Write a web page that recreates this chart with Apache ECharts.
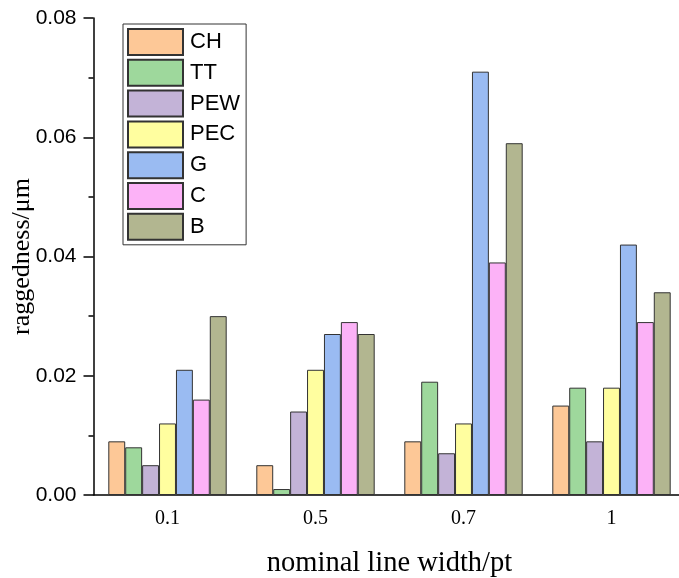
<!DOCTYPE html>
<html>
<head>
<meta charset="utf-8">
<script src="https://cdn.jsdelivr.net/npm/echarts@6/dist/echarts.min.js"></script>
<style>html,body{margin:0;padding:0;background:#fff;}#c{width:679px;height:578px;}</style>
</head>
<body>
<div id="c"></div>
<script>
const categories = ['0.1', '0.5', '0.7', '1'];
const seriesNames = ['CH', 'TT', 'PEW', 'PEC', 'G', 'C', 'B'];
const CH  = [0.009, 0.005, 0.009, 0.015];
const TT  = [0.008, 0.001, 0.019, 0.018];
const PEW = [0.005, 0.014, 0.007, 0.009];
const PEC = [0.012, 0.021, 0.012, 0.018];
const G   = [0.021, 0.027, 0.071, 0.042];
const C   = [0.016, 0.029, 0.039, 0.029];
const B   = [0.030, 0.027, 0.059, 0.034];
const seriesValues = [CH, TT, PEW, PEC, G, C, B];
const colors = ['#FDC897', '#9ED89C', '#C3B3D7', '#FFFE9F', '#9ABBF2', '#FCB2F7', '#B2B690'];

const chart = echarts.init(document.getElementById('c'));
chart.setOption({
  animation: false,
  backgroundColor: '#fff',
  grid: { left: 93.5, width: 592, top: 18, bottom: 83, containLabel: false, outerBoundsMode: 'none' },
  legend: {
    orient: 'vertical',
    left: 123, top: 24,
    padding: [4, 6, 4, 4],
    borderColor: '#333', borderWidth: 1,
    itemWidth: 55, itemHeight: 26, itemGap: 2.8,
    icon: 'rect',
    textStyle: { fontFamily: 'Liberation Sans, Arial', fontSize: 22, lineHeight: 26, color: '#000', padding: [0, 0, 0, 2] },
    data: seriesNames
  },
  xAxis: [{
    type: 'category',
    data: categories,
    name: 'nominal line width/pt',
    nameLocation: 'middle',
    nameGap: 54,
    nameMoveOverlap: false,
    nameTextStyle: { fontFamily: 'Liberation Serif, Times New Roman', fontSize: 28.5, color: '#000' },
    axisLine: { lineStyle: { color: '#000', width: 1.5 } },
    axisTick: { alignWithLabel: true, length: 8, lineStyle: { color: '#000', width: 1.5 } },
    axisLabel: { fontFamily: 'Liberation Serif, Times New Roman', fontSize: 20, color: '#000', margin: 14 },
    splitLine: { show: false }
  }, {
    type: 'category',
    data: categories,
    position: 'bottom',
    axisLine: { show: false },
    axisTick: { length: 4, lineStyle: { color: '#000', width: 1.5 } },
    axisLabel: { show: false },
    splitLine: { show: false }
  }],
  yAxis: {
    type: 'value',
    min: 0, max: 0.08, interval: 0.02,
    name: 'raggedness/μm',
    nameLocation: 'middle',
    nameGap: 58,
    nameMoveOverlap: false,
    nameTextStyle: { fontFamily: 'Liberation Serif, Times New Roman', fontSize: 26, color: '#000' },
    axisLine: { show: true, lineStyle: { color: '#000', width: 1.5 } },
    axisTick: { show: true, length: 10, lineStyle: { color: '#000', width: 1.5 } },
    minorTick: { show: true, splitNumber: 2, length: 5, lineStyle: { color: '#000', width: 1.5 } },
    axisLabel: { fontFamily: 'Liberation Sans, Arial', fontSize: 21, color: '#000', margin: 17,
      formatter: v => v.toFixed(2) },
    splitLine: { show: false }
  },
  series: seriesNames.map((n, i) => ({
    name: n,
    type: 'bar',
    xAxisIndex: 0,
    data: seriesValues[i],
    barGap: '0%',
    barCategoryGap: '20%',
    itemStyle: { color: colors[i], borderColor: '#333', borderWidth: 1 }
  }))
});
</script>
</body>
</html>
